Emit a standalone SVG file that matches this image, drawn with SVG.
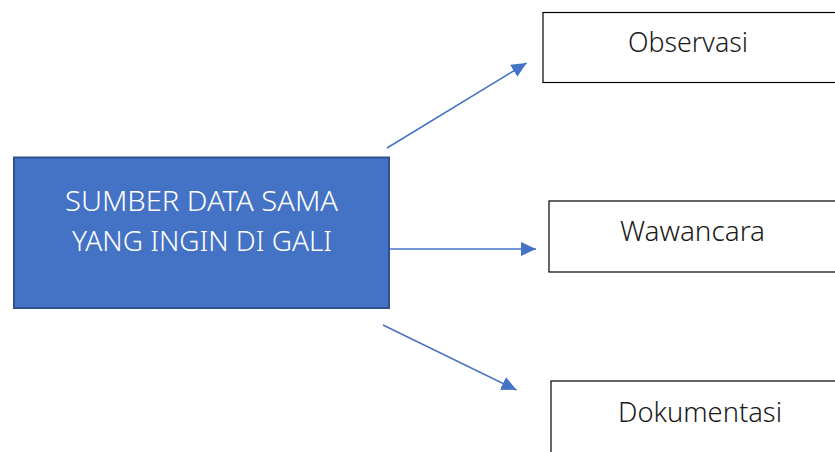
<svg xmlns="http://www.w3.org/2000/svg" width="835" height="452" viewBox="0 0 835 452">
  <style>
    .src rect { fill: #4472C4; stroke: #2F528F; stroke-width: 2; }
    .src text { fill: #FFFFFF; }
    .out rect { fill: #FFFFFF; stroke: #000000; stroke-width: 1.2; }
    .out text { fill: #1A1A1A; }
    text { font-family: "Noto Sans", "Open Sans", sans-serif; font-weight: 300; font-size: 28px; text-anchor: middle; }
    .link { stroke: #4472C4; stroke-width: 1.5; fill: none; marker-end: url(#head); }
  </style>
  <defs>
    <marker id="head" markerUnits="userSpaceOnUse" markerWidth="16" markerHeight="14" refX="15" refY="7" orient="auto" viewBox="0 0 16 14">
      <path d="M0,0 L15,7 L0,14 Z" fill="#4472C4"/>
    </marker>
  </defs>
  <rect width="835" height="452" fill="#FFFFFF"/>

  <g id="connectors">
    <line class="link" x1="387" y1="148" x2="526.5" y2="63"/>
    <line class="link" x1="389" y1="249" x2="536" y2="249"/>
    <line class="link" x1="383" y1="325" x2="516.5" y2="390"/>
  </g>

  <g id="sumber-data" class="src">
    <rect x="14" y="157.5" width="375" height="150.5"/>
    <text x="201.5" y="210.5" textLength="273" lengthAdjust="spacingAndGlyphs">SUMBER DATA SAMA</text>
    <text x="202" y="251" textLength="260" lengthAdjust="spacingAndGlyphs">YANG INGIN DI GALI</text>
  </g>

  <g id="observasi" class="out">
    <rect x="543" y="12.5" width="300" height="70"/>
    <text x="688" y="52" textLength="120" lengthAdjust="spacingAndGlyphs">Observasi</text>
  </g>

  <g id="wawancara" class="out">
    <rect x="549" y="201" width="300" height="71"/>
    <text x="692.5" y="240.5" textLength="145" lengthAdjust="spacingAndGlyphs">Wawancara</text>
  </g>

  <g id="dokumentasi" class="out">
    <rect x="551" y="381" width="300" height="90"/>
    <text x="700" y="422" textLength="164" lengthAdjust="spacingAndGlyphs">Dokumentasi</text>
  </g>
</svg>
